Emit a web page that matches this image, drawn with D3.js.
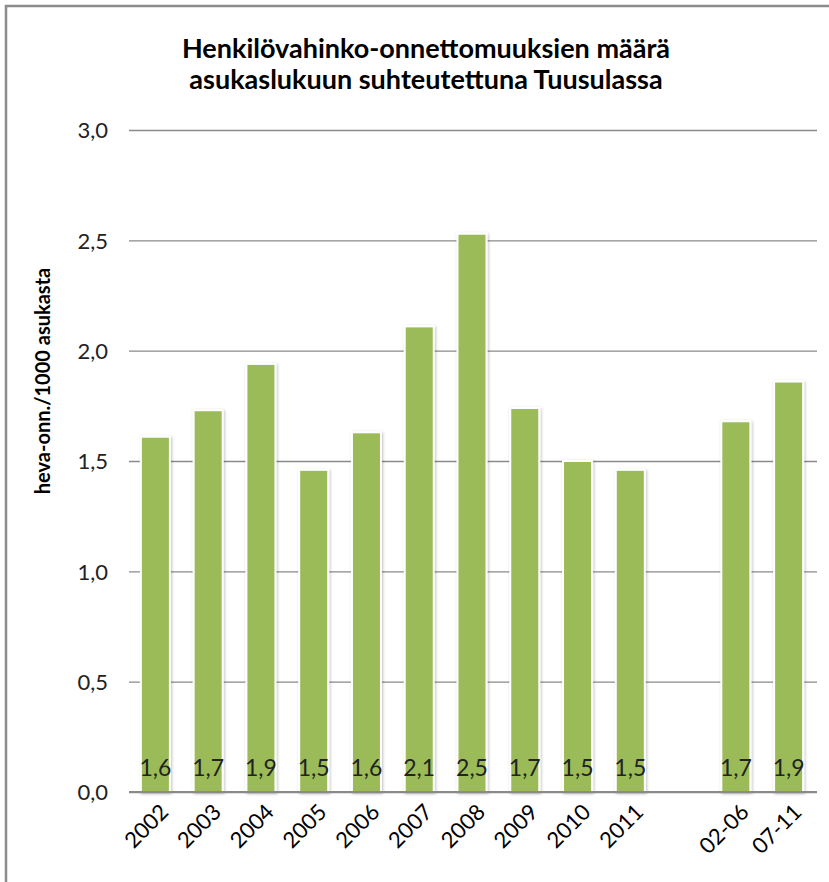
<!DOCTYPE html>
<html>
<head>
<meta charset="utf-8">
<script src="https://cdn.jsdelivr.net/npm/d3@7"></script>
<style>
  html, body { margin: 0; padding: 0; background: #fff; }
  body { width: 829px; height: 882px; overflow: hidden; }
  text { font-family: Lato, "Open Sans", sans-serif; }
</style>
</head>
<body>
<script>
// data
const categories = ['2002', '2003', '2004', '2005', '2006', '2007', '2008', '2009', '2010', '2011', '', '02-06', '07-11']
const values = [1.61, 1.73, 1.94, 1.46, 1.63, 2.11, 2.53, 1.74, 1.50, 1.46, null, 1.68, 1.86]
const yTicks = [0, 0.5, 1, 1.5, 2, 2.5, 3]
const titleLines = ['Henkilövahinko-onnettomuuksien määrä', 'asukaslukuun suhteutettuna Tuusulassa']
const yLabel = 'heva-onn./1000 asukasta'

let width = 829, height = 882
let comma = d => d3.format('.1f')(d).replace('.', ',')

let svg = d3.select('body').append('svg')
  .attr('width', width)
  .attr('height', height)

let defs = svg.append('defs')
defs.append('filter').attr('id', 'shadow')
    .attr('x', '-30%').attr('y', '-10%').attr('width', '160%').attr('height', '120%')
  .append('feDropShadow')
    .attr('dx', 1).attr('dy', 1).attr('stdDeviation', 1.6)
    .attr('flood-color', '#000').attr('flood-opacity', 0.25)

// frame (only top and left edges are visible in the picture)
svg.append('rect')
  .attr('x', 6).attr('y', 6)
  .attr('width', width + 20).attr('height', height + 20)
  .style('fill', 'none').style('stroke', '#8c8c8c').style('stroke-width', 2.5)

// title
svg.append('g').selectAll('text').data(titleLines).join('text')
  .attr('x', 426)
  .attr('y', (d, i) => 58 + i * 31)
  .attr('text-anchor', 'middle')
  .style('font-weight', 'bold')
  .style('font-size', '27px')
  .style('fill', '#000')
  .text(d => d)

let x = d3.scaleBand()
  .domain(categories.map((c, i) => i))
  .range([129, 815])
  .paddingInner(0.45)
  .paddingOuter(0.225)

let y = d3.scaleLinear().domain([0, 3]).range([792, 130])

// gridlines + y tick labels
let yAxis = svg.append('g')
  .attr('transform', 'translate(129,0)')
  .call(d3.axisLeft(y).tickValues(yTicks).tickSize(-688).tickFormat(comma).tickPadding(21))
yAxis.select('.domain').remove()
yAxis.selectAll('.tick line')
  .style('stroke', '#8a8a8a').style('stroke-width', 1.3)
  .attr('x1', 0)
yAxis.selectAll('.tick text')
  .style('font-size', '22px').style('fill', '#222')
  .attr('dy', '0.35em')

svg.append('text')
  .attr('transform', 'translate(50,381)rotate(-90)')
  .attr('text-anchor', 'middle')
  .style('font-weight', 'bold')
  .style('font-size', '20px')
  .style('fill', '#000')
  .text(yLabel)

// bars
let barData = values.map((v, i) => ({ i, v })).filter(d => d.v != null)
let bars = svg.append('g').attr('id', 'bars')
bars.selectAll('rect').data(barData).join('rect')
  .attr('x', d => x(d.i))
  .attr('y', d => y(d.v))
  .attr('width', x.bandwidth())
  .attr('height', d => y(0) - y(d.v))
  .style('fill', '#9bbb59')
  .style('stroke', '#fff')
  .style('stroke-width', 2)
  .style('filter', 'url(#shadow)')

// bottom axis line
svg.append('line')
  .attr('x1', 129).attr('x2', 817)
  .attr('y1', y(0)).attr('y2', y(0))
  .style('stroke', '#8a8a8a').style('stroke-width', 2)

// value labels inside the bars
bars.selectAll('text').data(barData).join('text')
  .attr('x', d => x(d.i) + x.bandwidth() / 2)
  .attr('y', 776)
  .attr('text-anchor', 'middle')
  .style('font-size', '23px')
  .style('fill', '#222')
  .text(d => comma(d.v))

// x labels
svg.append('g').selectAll('text').data(categories.map((c, i) => ({ c, i })).filter(d => d.c)).join('text')
  .attr('transform', d => `translate(${x(d.i) + x.bandwidth() / 2 + 9},${808})rotate(-45)`)
  .attr('text-anchor', 'end')
  .attr('dy', '0.35em')
  .style('font-size', '22px')
  .style('fill', '#000')
  .text(d => d.c)
</script>
</body>
</html>
